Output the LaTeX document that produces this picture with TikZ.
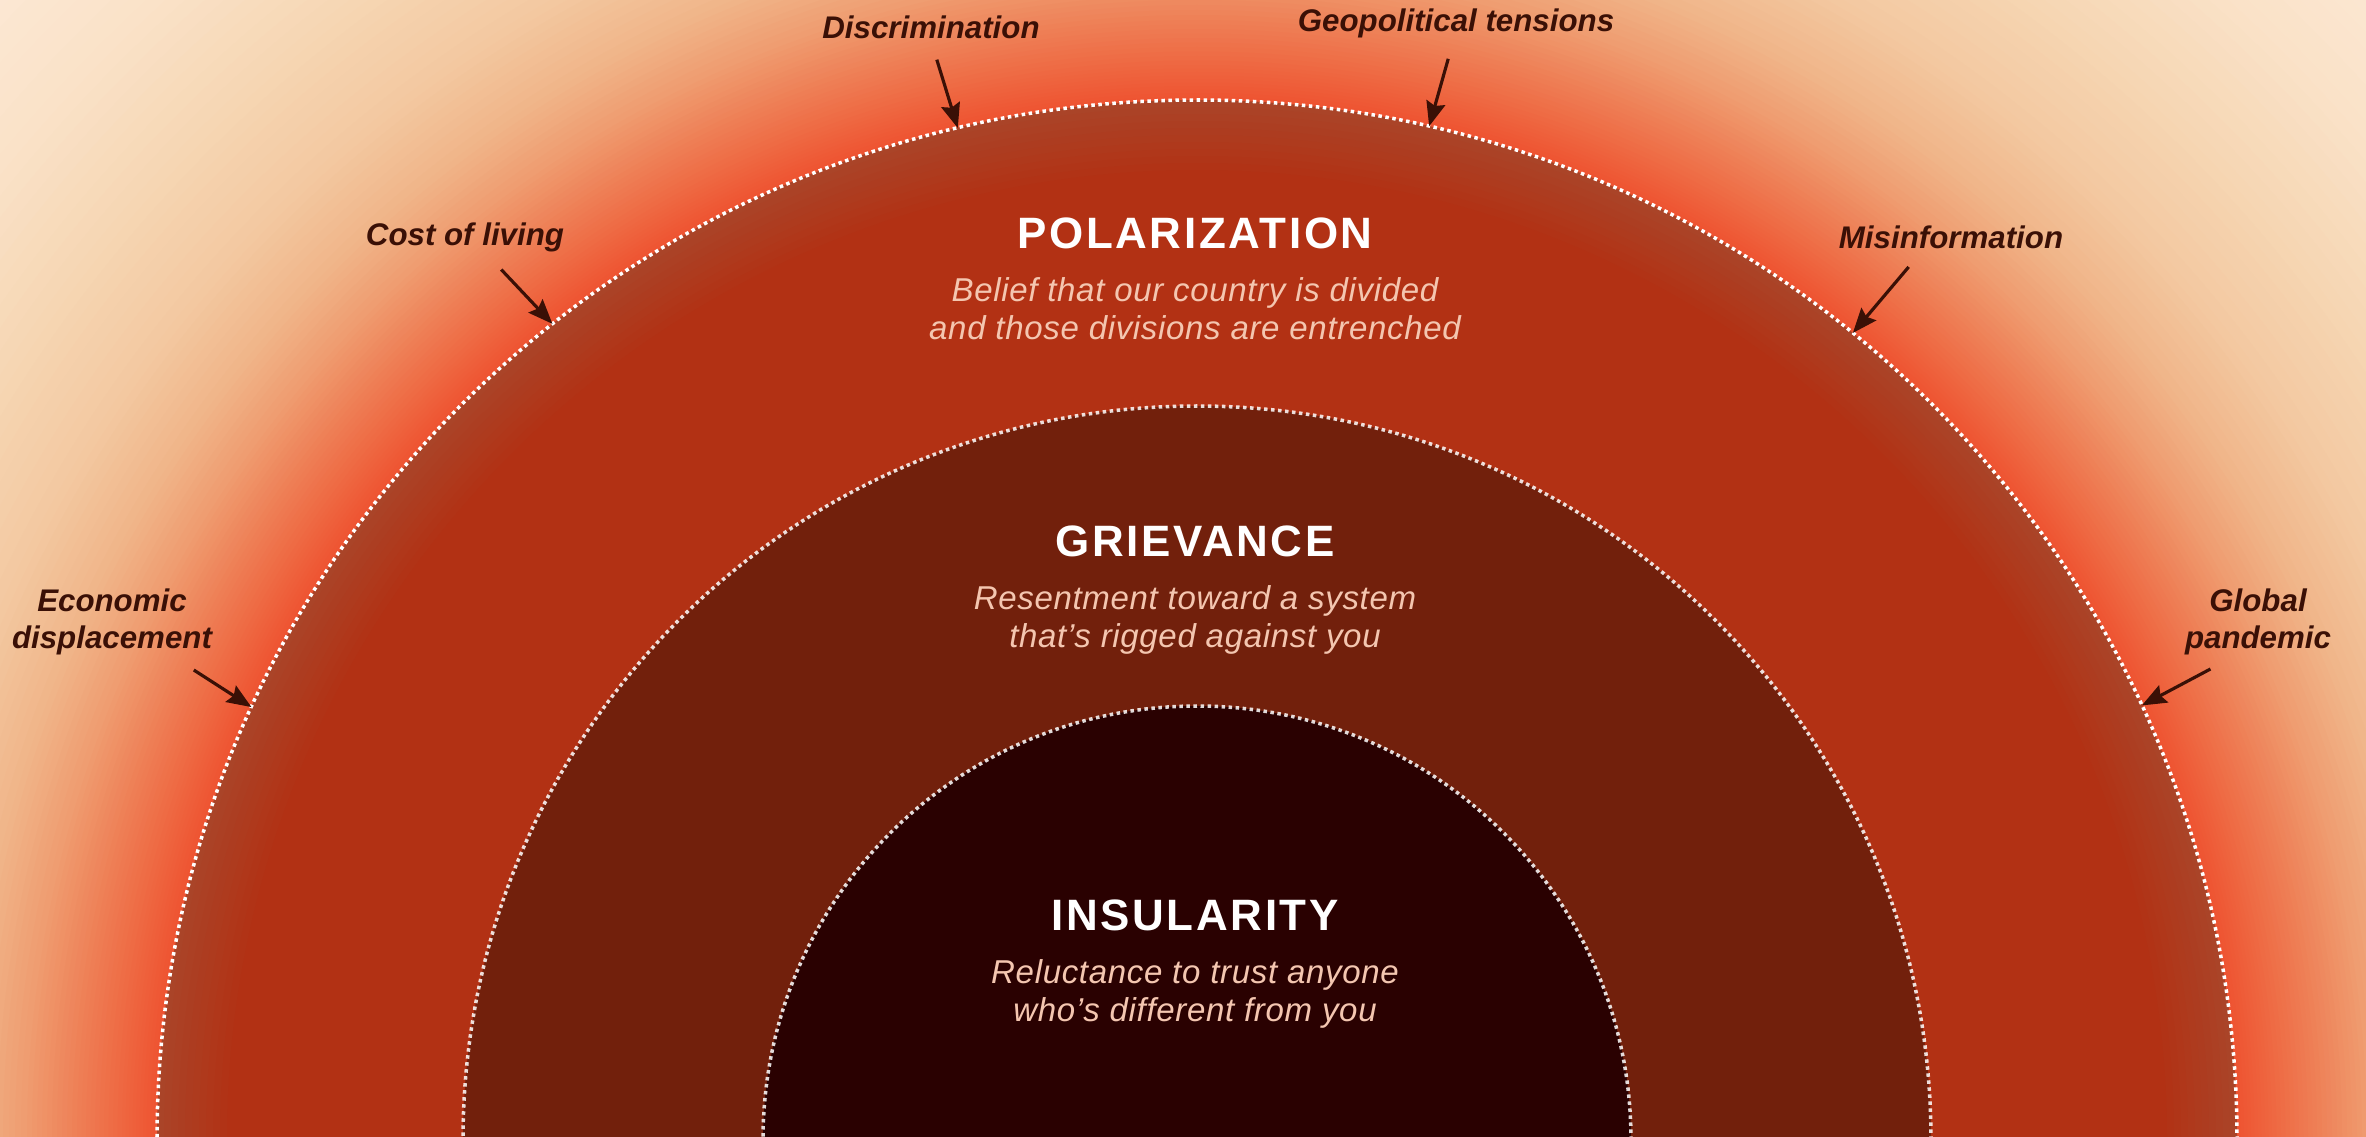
\documentclass[tikz,border=0pt]{standalone}
\usepackage{fontspec}
\setmainfont{Liberation Sans}
\newfontfamily\spacedfont[LetterSpace=6]{Liberation Sans}
\newfontfamily\notefont[LetterSpace=2]{Liberation Sans}
\usepackage{xcolor}
\usepackage{tikz}
\usetikzlibrary{arrows.meta,positioning,calc}
\definecolor{polred}{HTML}{B23114}
\definecolor{poledge}{HTML}{AA4428}
\definecolor{grievbrown}{HTML}{72200C}
\definecolor{insdark}{HTML}{2A0101}
\definecolor{notepeach}{HTML}{F4C6B0}
\definecolor{causebrown}{HTML}{3A1006}
\definecolor{glowa}{HTML}{EE5230}
\definecolor{glowb}{HTML}{EE6640}
\definecolor{glowc}{HTML}{EE7E55}
\definecolor{glowd}{HTML}{EF9A6E}
\definecolor{glowe}{HTML}{F0B488}
\definecolor{glowf}{HTML}{F3C8A0}
\definecolor{glowg}{HTML}{F6D6B3}
\definecolor{glowh}{HTML}{FAE2C8}
\definecolor{glowi}{HTML}{FCE8D4}

\begin{document}
\begin{tikzpicture}[
  cause/.style={font=\bfseries\itshape\fontsize{8.9}{10.3}\selectfont, text=causebrown, align=center, inner sep=2pt},
  causearrow/.style={-{Stealth[length=7pt,width=5.5pt,inset=1pt]}, line width=0.9pt, causebrown, shorten <=4pt},
  ringtitle/.style={font=\spacedfont\bfseries\fontsize{12.5}{15}\selectfont, text=white, inner sep=0pt, anchor=base},
  ringnote/.style={font=\notefont\itshape\fontsize{9.4}{10.8}\selectfont, text=notepeach, align=center, inner sep=0pt},
  ringline/.style={draw=white, line width=1pt, dash pattern=on 1pt off 1pt}]
  \useasboundingbox (0,0) rectangle (23.66,11.36);
  \clip (0,0) rectangle (23.66,11.36);
  \coordinate (c) at (11.97,-0.04);

  % background glow, outside in
  \fill[glowi] (0,0) rectangle (23.66,11.36);
  \foreach \rout/\rin/\cout/\cin in {16.7/15.5/glowi/glowh, 15.5/14.2/glowh/glowg,
      14.2/13.1/glowg/glowf, 13.1/12.3/glowf/glowe, 12.3/11.7/glowe/glowd,
      11.7/11.2/glowd/glowc, 11.2/10.75/glowc/glowb, 10.75/10.4/glowb/glowa}{
    \foreach \k in {0,...,9}{
      \pgfmathsetmacro\rr{\rout-\k*(\rout-\rin)/10}
      \pgfmathtruncatemacro\mm{\k*10}
      \fill[fill=\cin!\mm!\cout] (c) circle (\rr);
    }
  }

  % outer ring with its darker rim
  \foreach \k in {0,...,9}{
    \pgfmathsetmacro\rr{10.40-\k*0.07}
    \pgfmathtruncatemacro\mm{\k*10}
    \fill[fill=polred!\mm!poledge] (c) circle (\rr);
  }
  \fill[polred] (c) circle (9.70);
  \draw[ringline] (c) circle (10.40);

  % inner rings
  \fill[grievbrown] (c) circle (7.34);
  \draw[ringline, opacity=.85] (c) circle (7.34);
  \fill[insdark] (c) circle (4.34);
  \draw[ringline, opacity=.85] (c) circle (4.34);

  % ring texts
  \node[ringtitle] (pol) at (11.95,8.88) {POLARIZATION};
  \node[ringnote, below=0.28cm of pol] (polnote) {Belief that our country is divided\\and those divisions are entrenched};
  \node[ringtitle] (griev) at (11.95,5.80) {GRIEVANCE};
  \node[ringnote, below=0.28cm of griev] (grievnote) {Resentment toward a system\\that’s rigged against you};
  \node[ringtitle] (insul) at (11.95,2.06) {INSULARITY};
  \node[ringnote, below=0.28cm of insul] (insulnote) {Reluctance to trust anyone\\who’s different from you};

  % outside pressures
  \node[cause] (disc) at (9.31,11.09) {Discrimination};
  \node[cause] (geo) at (14.56,11.13) {Geopolitical tensions};
  \node[cause] (cost) at (4.65,8.99) {Cost of living};
  \node[cause] (misinfo) at (19.51,8.99) {Misinformation};
  \node[cause] (econ) at (1.12,5.14) {Economic\\displacement};
  \node[cause] (glob) at (22.58,5.14) {Global\\pandemic};

  \coordinate (discpt) at ([shift={(103.3:10.40)}]c);
  \coordinate (geopt) at ([shift={(77.1:10.40)}]c);
  \coordinate (costpt) at ([shift={(128.3:10.40)}]c);
  \coordinate (misinfopt) at ([shift={(50.9:10.40)}]c);
  \coordinate (econpt) at ([shift={(155.4:10.40)}]c);
  \coordinate (globpt) at ([shift={(24.7:10.40)}]c);

  \draw[causearrow] (disc.-85) -- (discpt);
  \draw[causearrow] (geo.-100) -- (geopt);
  \draw[causearrow] (cost.-40) -- (costpt);
  \draw[causearrow] (misinfo.-150) -- (misinfopt);
  \draw[causearrow] (econ.-30) -- (econpt);
  \draw[causearrow] (glob.-131) -- (globpt);
\end{tikzpicture}
\end{document}
